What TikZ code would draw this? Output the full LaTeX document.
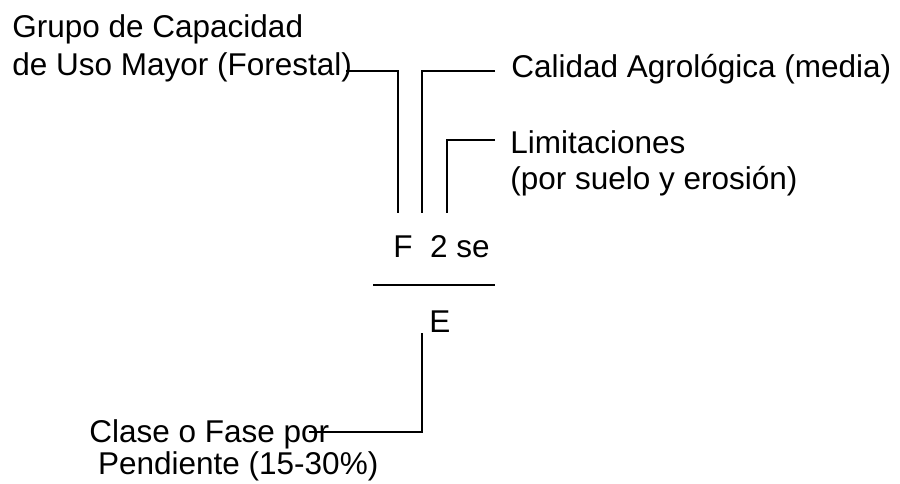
\documentclass[tikz,border=0pt]{standalone}
\usepackage{fontspec}
\setmainfont{Liberation Sans}
\usepackage{tikz}

\begin{document}
\begin{tikzpicture}[x=0.5pt,y=-0.5pt,
			every node/.style={
				inner sep=0pt,
				align=left,
				anchor=north west,
				font=\fontsize{15.75}{19}\selectfont
			},
			conn/.style={line width=0.8pt}]
			
			\useasboundingbox (0,0) rectangle (900,483);
			
			\node(grupo) at (12,14){Grupo de Capacidad\\de Uso Mayor (Forestal)};
			
			\node(calidad) at (511,54){Calidad Agrológica (media)};
			
			\node(limit)[font=\fontsize{15.75}{18}\selectfont] at (510,130){Limitaciones\\(por suelo y erosión)};
			
			\node(simbolo) at (393,235){F\ \ 2 se};
			
			\node(fase) at (429,310){E};
			
			\node(clase)[font=\fontsize{15.75}{16.25}\selectfont] at (89,419){Clase o Fase por\\\ Pendiente (15-30\%)};
			
			\coordinate(pF) at (398,213);
			
			\coordinate(p2) at (422,213);
			
			\coordinate(pse) at (447,213);
			
			\coordinate(pE) at (422,333);
			
			\draw[conn]([shift={(-6,-11)}]grupo.south east)-|(pF);
			
			\draw[conn]([shift={(-16,2)}]calidad.west)-|(p2);
			
			\draw[conn]([shift={(-15,10)}]limit.north west)-|(pse);
			
			\draw[conn](373,285)--(495,285);
			
			\draw[conn]([shift={(220,13)}]clase.north west)-|(pE);
			
		\end{tikzpicture}
\end{document}
